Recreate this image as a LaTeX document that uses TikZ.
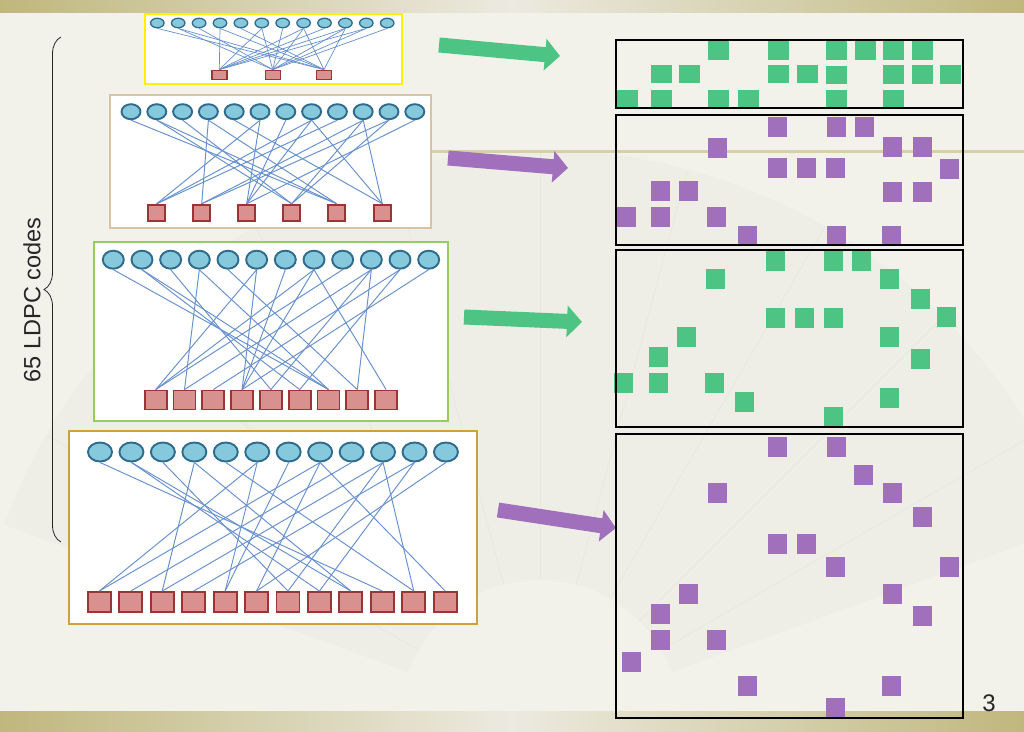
\documentclass[tikz,border=0pt]{standalone}
\usepackage{fontspec}
\setmainfont{Liberation Sans}
\usetikzlibrary{arrows.meta,decorations.pathreplacing,shapes.geometric}
\definecolor{bg}{HTML}{F3F2EA}
\definecolor{fanA}{HTML}{EFEEE6}
\definecolor{fanL}{HTML}{E8E7DE}
\definecolor{band}{HTML}{C0B77D}
\definecolor{bandlight}{HTML}{ECEAE0}
\definecolor{tline}{HTML}{D6CFA8}
\definecolor{vfill}{HTML}{86C8DC}
\definecolor{vdraw}{HTML}{2E6B8C}
\definecolor{cfill}{HTML}{D9918F}
\definecolor{cdraw}{HTML}{9B3535}
\definecolor{edgec}{HTML}{6690CD}
\definecolor{mgreen}{HTML}{4EC484}
\definecolor{mpurple}{HTML}{A070BC}
\definecolor{ybox}{HTML}{FFF200}
\definecolor{tbox}{HTML}{D8C4A4}
\definecolor{gbox}{HTML}{98CC60}
\definecolor{obox}{HTML}{CFA13A}
\tikzset{
  vn/.style={ellipse, draw=vdraw, fill=vfill, line width=1.9pt, inner sep=0pt},
  cn/.style={rectangle, draw=cdraw, fill=cfill, line width=1.9pt, inner sep=0pt},
  ed/.style={draw=edgec, line width=0.95pt},
  frame/.style={line width=2pt, fill=white},
  mbox/.style={draw=black, line width=2pt},
  bigarrow/.style={line width=15pt, -{Triangle[width=31pt,length=15pt]}},
}
\begin{document}
\begin{tikzpicture}[x=1pt,y=-1pt]
\useasboundingbox (0,0) rectangle (1024,731);
\fill[bg] (0,0) rectangle (1024,731);
% faint fan in the background
\fill[fanA] (540,720) -- ++(200:570) arc[start angle=200, end angle=340, radius=570] -- cycle;
\foreach \a in {210,225,...,330}
  \draw[fanL, line width=0.6pt] (540,720) -- ++(\a:570);
\fill[bg] (540,720) circle[radius=140];
% template bands
\shade[left color=band, right color=band, middle color=bandlight] (0,0) rectangle (1024,12);
\shade[left color=band, right color=band, middle color=bandlight] (0,711) rectangle (1024,731);
\draw[tline, line width=3pt] (110,151) -- (1024,151);

% ---------- graph 1 ----------
\draw[frame, draw=ybox] (145,14) rectangle (402,84);
\foreach \i in {0,...,11}
  \node[vn, line width=1.3pt, minimum width=13.5pt, minimum height=9.5pt] (a\i) at ({157.3+20.9*\i},23) {};
\foreach \x [count=\j from 0] in {219.3,272.7,324}
  \node[cn, line width=1.4pt, minimum width=15pt, minimum height=9.5pt] (ac\j) at (\x,75) {};
\foreach \r/\cols in {0/{3,5,7,8,9,10},1/{1,2,5,6,7,9,10,11},2/{0,1,3,4,7,9}}
  \foreach \c in \cols \draw[ed, line width=0.7pt] (a\c.south) -- (ac\r.north);

% ---------- graph 2 ----------
\draw[frame, draw=tbox, line width=2.5pt] (110,95) rectangle (431,228);
\foreach \i in {0,...,11}
  \node[vn, minimum width=19pt, minimum height=15pt] (b\i) at ({131+25.8*\i},111.7) {};
\foreach \x [count=\j from 0] in {156.7,201.7,246.7,291.7,336.7,382.3}
  \node[cn, minimum width=17pt, minimum height=16pt] (bc\j) at (\x,212.7) {};
\foreach \r/\cols in {0/{5,7,8},1/{3,9,10},2/{5,6,7,11},3/{1,2,9,10},4/{0,1,3},5/{4,7,9}}
  \foreach \c in \cols \draw[ed] (b\c.south) -- (bc\r.north);

% ---------- graph 3 ----------
\draw[frame, draw=gbox] (94,242) rectangle (448,421);
\foreach \i in {0,...,11}
  \node[vn, minimum width=21pt, minimum height=18pt] (g\i) at ({113.3+28.67*\i},259.7) {};
\foreach \j in {0,...,8}
  \node[cn, minimum width=22pt, minimum height=19pt] (gc\j) at ({155.7+28.8*\j},400) {};
\foreach \r/\cols in {0/{5,7,8},1/{3,9},2/{10},3/{5,6,7,11},4/{2,9},5/{1,10},6/{0,1,3},7/{4,9},8/{7}}
  \foreach \c in \cols \draw[ed] (g\c.south) -- (gc\r.north);

% ---------- graph 4 ----------
\draw[frame, draw=obox] (69,431) rectangle (477,624);
\foreach \i in {0,...,11}
  \node[vn, minimum width=24pt, minimum height=19pt] (d\i) at ({100+31.45*\i},452) {};
\foreach \j in {0,...,11}
  \node[cn, minimum width=23pt, minimum height=20pt] (dc\j) at ({99.3+31.45*\j},602) {};
\foreach \r/\cols in {0/{5,7},1/{8},2/{3,9},3/{10},4/{5,6},5/{7,11},6/{2,9},7/{1,10},8/{1,3},9/{0},10/{4,9},11/{7}}
  \foreach \c in \cols \draw[ed] (d\c.south) -- (dc\r.north);

% ---------- arrows ----------
\coordinate (t1) at (439,45);  \coordinate (h1) at (560,56);
\coordinate (t2) at (448,158); \coordinate (h2) at (568,168);
\coordinate (t3) at (464,317); \coordinate (h3) at (582,322);
\coordinate (t4) at (498,510); \coordinate (h4) at (616,528);
\draw[bigarrow, mgreen] (t1) -- (h1);
\draw[bigarrow, mpurple] (t2) -- (h2);
\draw[bigarrow, mgreen] (t3) -- (h3);
\draw[bigarrow, mpurple] (t4) -- (h4);

% ---------- matrices ----------
\foreach \x/\y in {708/41,768/41,826/41,855/41,883/41,912/41,
  651/64.5,679/64.5,768/64.5,797/64.5,826/65.5,883/65,912/65,940/65,
  617/90,651/90,708/90,738/90,826/89.5,883/89.5}
  \fill[mgreen] (\x,\y) rectangle ++(21,18.5);
\draw[mbox] (616,40) rectangle (963,108);

\foreach \x/\y in {768/117,827/117,855/117,
  708/138,883/137,913/137,
  768/158,797/158,826/158,940/159,
  651/181,679/181,883/182,913/182,
  617/207,651/207,707/207,
  738/225.5,827/225.5,882/225.5}
  \fill[mpurple] (\x,\y) rectangle ++(19,19.5);
\draw[mbox] (616,115) rectangle (963,245);

\foreach \x/\y in {766/251,824/251,852/251,
  706/269,880/269,
  911/289,
  766/308,795/308,824/308,937/307,
  677/327,880/327,
  649/347,911/349,
  614/373,649/373,705/373,
  735/392,880/388,
  824/407}
  \fill[mgreen] (\x,\y) rectangle ++(19,19.5);
\draw[mbox] (616,250) rectangle (963,427);

\foreach \x/\y in {768/437,827/437,
  854/465,
  708/483,883/483,
  913/507,
  768/534,797/534,
  826/557,940/557,
  679/584,883/584,
  651/604,913/606,
  651/630,707/630,
  622/652,
  738/676,882/676,
  826/698}
  \fill[mpurple] (\x,\y) rectangle ++(19,20);
\draw[mbox] (616,434) rectangle (963,718);

% ---------- brace and labels ----------
\coordinate (bbot) at (61,542);
\coordinate (btop) at (61,37);
\draw[decorate, decoration={brace, amplitude=17pt}, line width=0.8pt, black!85] (bbot) -- (btop);
\node[rotate=90, font=\fontsize{23.5}{28}\selectfont, text=black!85, inner sep=0pt] (lbl) at (32,300) {65 LDPC codes};
\node[font=\fontsize{24}{28}\selectfont, text=black!85, inner sep=0pt] (pg) at (989,703) {3};
\end{tikzpicture}
\end{document}
